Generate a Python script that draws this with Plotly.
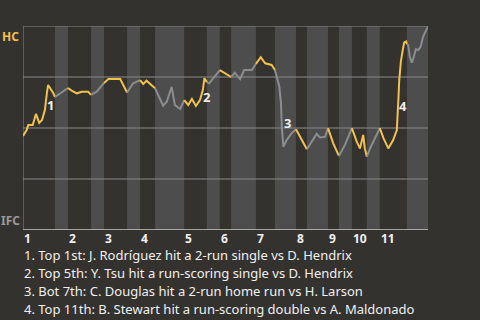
import plotly.graph_objects as go

# Game progress (% of game) and HC win probability
progress = [0, 0.9, 1.3, 2.4, 3.2, 4.0, 4.7, 5.4, 5.9, 6.2, 7.5, 7.9,
            9.1, 10.4, 11.1,
            12.0, 13.3, 14.5, 16.1, 16.8,
            18.2, 19.4, 20.0,
            21.1, 24.0, 25.7,
            27.2, 28.9,
            29.7, 30.5, 32.6,
            33.4, 34.6, 35.5, 36.7, 37.5, 38.8, 39.8,
            40.8, 41.7, 42.7, 43.7, 44.4, 44.8, 45.4,
            46.0, 48.6,
            49.9, 51.4,
            52.3, 53.6, 54.6, 56.5, 57.5,
            58.7, 59.8, 61.4, 62.2,
            62.6, 63.3, 63.7, 63.9, 64.3, 65.1, 66.3, 67.4,
            68.8, 70.1,
            71.3, 72.5, 73.3, 74.6, 75.3,
            76.6, 78.0,
            79.5, 81.2,
            82.4, 83.2, 84.0, 84.4, 84.9,
            85.7, 86.9, 88.1,
            89.0, 90.2, 91.4, 92.3, 92.4, 92.7, 92.9, 93.3, 93.7, 94.1, 94.6, 94.8,
            95.1, 95.5, 96.0, 96.4, 97.0, 97.6, 98.2, 98.8, 99.5, 100]
win_prob = [0.461, 0.490, 0.515, 0.515, 0.569, 0.525, 0.539, 0.588, 0.672, 0.711, 0.670, 0.652,
            0.670, 0.690, 0.696,
            0.683, 0.670, 0.678, 0.678, 0.662,
            0.678, 0.706, 0.721,
            0.740, 0.740, 0.674,
            0.719, 0.735,
            0.716, 0.732, 0.695,
            0.662, 0.609, 0.629, 0.701, 0.613, 0.593, 0.637,
            0.613, 0.642, 0.608, 0.637, 0.686, 0.744, 0.725,
            0.719, 0.784,
            0.768, 0.750,
            0.771, 0.740, 0.784, 0.784, 0.814,
            0.847, 0.817, 0.809, 0.784,
            0.751, 0.702, 0.621, 0.506, 0.408, 0.441, 0.474, 0.494,
            0.441, 0.396,
            0.433, 0.471, 0.454, 0.457, 0.499,
            0.425, 0.363,
            0.417, 0.499,
            0.433, 0.400, 0.466, 0.400, 0.359,
            0.400, 0.450, 0.499,
            0.450, 0.400, 0.441, 0.490, 0.555, 0.646, 0.735, 0.825, 0.874, 0.918, 0.924, 0.912,
            0.907, 0.850, 0.820, 0.842, 0.886, 0.882, 0.899, 0.948, 0.980, 0.998]

# Half-inning starts (% of game)
top_starts = [0, 11.1, 20.0, 28.9, 39.8, 48.6, 57.5, 67.4, 75.3, 81.2, 88.1]
bot_starts = [7.9, 16.8, 25.7, 32.6, 45.4, 51.4, 62.2, 70.1, 78.0, 84.9, 94.8]
game_end = 100
inning_labels = ["1", "2", "3", "4", "5", "6", "7", "8", "9", "10", "11"]

# Key events: marker number, label position
event_nums = ["1", "2", "3", "4"]
event_x = [6.9, 45.4, 65.2, 93.8]
event_y = [0.613, 0.652, 0.525, 0.608]
event_text = [
    "1. Top 1st: J. Rodríguez hit a 2-run single vs D. Hendrix",
    "2. Top 5th: Y. Tsu hit a run-scoring single vs D. Hendrix",
    "3. Bot 7th: C. Douglas hit a 2-run home run vs H. Larson",
    "4. Top 11th: B. Stewart hit a run-scoring double vs A. Maldonado",
]

BG = "#34322f"
BAND = "#4d4d4d"
GOLD = "#f2c24c"
GREY = "#8b8d8f"
FONT = "Noto Sans, Open Sans, sans-serif"

fig = go.Figure()

# colour line by half-inning
next_tops = top_starts[1:] + [game_end]
for i in range(len(top_starts)):
    for (a, b, col) in [(top_starts[i], bot_starts[i], GOLD), (bot_starts[i], next_tops[i], GREY)]:
        xs = [x for x in progress if a - 1e-9 <= x <= b + 1e-9]
        ys = [y for x, y in zip(progress, win_prob) if a - 1e-9 <= x <= b + 1e-9]
        if len(xs) > 1:
            fig.add_trace(go.Scatter(x=xs, y=ys, mode="lines",
                                     line=dict(color=col, width=2),
                                     hoverinfo="skip", showlegend=False))

shapes = []
for i in range(len(bot_starts)):
    shapes.append(dict(type="rect", xref="x", yref="y", x0=bot_starts[i], x1=next_tops[i],
                       y0=0, y1=1, fillcolor=BAND, line=dict(width=0), layer="below"))
for g in [0.25, 0.5, 0.75, 1.0]:
    shapes.append(dict(type="line", xref="x", yref="y", x0=0, x1=game_end, y0=g, y1=g,
                       line=dict(color="#8a8a8a", width=1), layer="below"))
shapes.append(dict(type="line", xref="x", yref="y", x0=0, x1=game_end, y0=0, y1=0,
                   line=dict(color="#c8c8c8", width=1.5), layer="above"))
shapes.append(dict(type="line", xref="x", yref="y", x0=0, x1=0, y0=0, y1=1,
                   line=dict(color="#8a8a8a", width=1), layer="below"))

annotations = []
for n, x, y in zip(event_nums, event_x, event_y):
    annotations.append(dict(x=x, y=y, xref="x", yref="y", text=n, showarrow=False,
                            font=dict(family=FONT, size=13, color="#eeeeee", weight="bold")))
for s, lab in zip(top_starts, inning_labels):
    annotations.append(dict(x=s, y=0, xref="x", yref="y", text=lab, showarrow=False,
                            xanchor="left", yanchor="top", xshift=0, yshift=1, borderpad=0,
                            font=dict(family=FONT, size=12, color="#f0f0f0", weight="bold")))
for k, t in enumerate(event_text):
    annotations.append(dict(x=0, y=0, xref="x", yref="y", text=t, showarrow=False,
                            xanchor="left", yanchor="middle", xshift=0, yshift=-25 - 18 * k,
                            borderpad=0,
                            font=dict(family=FONT, size=13, color="#f0f0f0")))
annotations.append(dict(x=0, y=1, xref="paper", yref="y", text="HC", showarrow=False,
                        xanchor="right", yanchor="top", xshift=-3, yshift=-1, borderpad=0,
                        font=dict(family=FONT, size=12, color=GOLD, weight="bold")))
annotations.append(dict(x=0, y=0, xref="paper", yref="y", text="IFC", showarrow=False,
                        xanchor="right", yanchor="bottom", xshift=-2, yshift=0, borderpad=0,
                        font=dict(family=FONT, size=12, color="#9a9a9a", weight="bold")))

fig.update_layout(
    width=480, height=320,
    margin=dict(l=23, r=52, t=26, b=90),
    paper_bgcolor=BG, plot_bgcolor=BG,
    xaxis=dict(range=[0, game_end], showgrid=False, zeroline=False, showticklabels=False,
               showline=False, fixedrange=True),
    yaxis=dict(range=[0, 1], showgrid=False, zeroline=False, showticklabels=False,
               showline=False, fixedrange=True),
    shapes=shapes, annotations=annotations,
    showlegend=False,
)
fig.write_html("out.html", config={"displayModeBar": False})
